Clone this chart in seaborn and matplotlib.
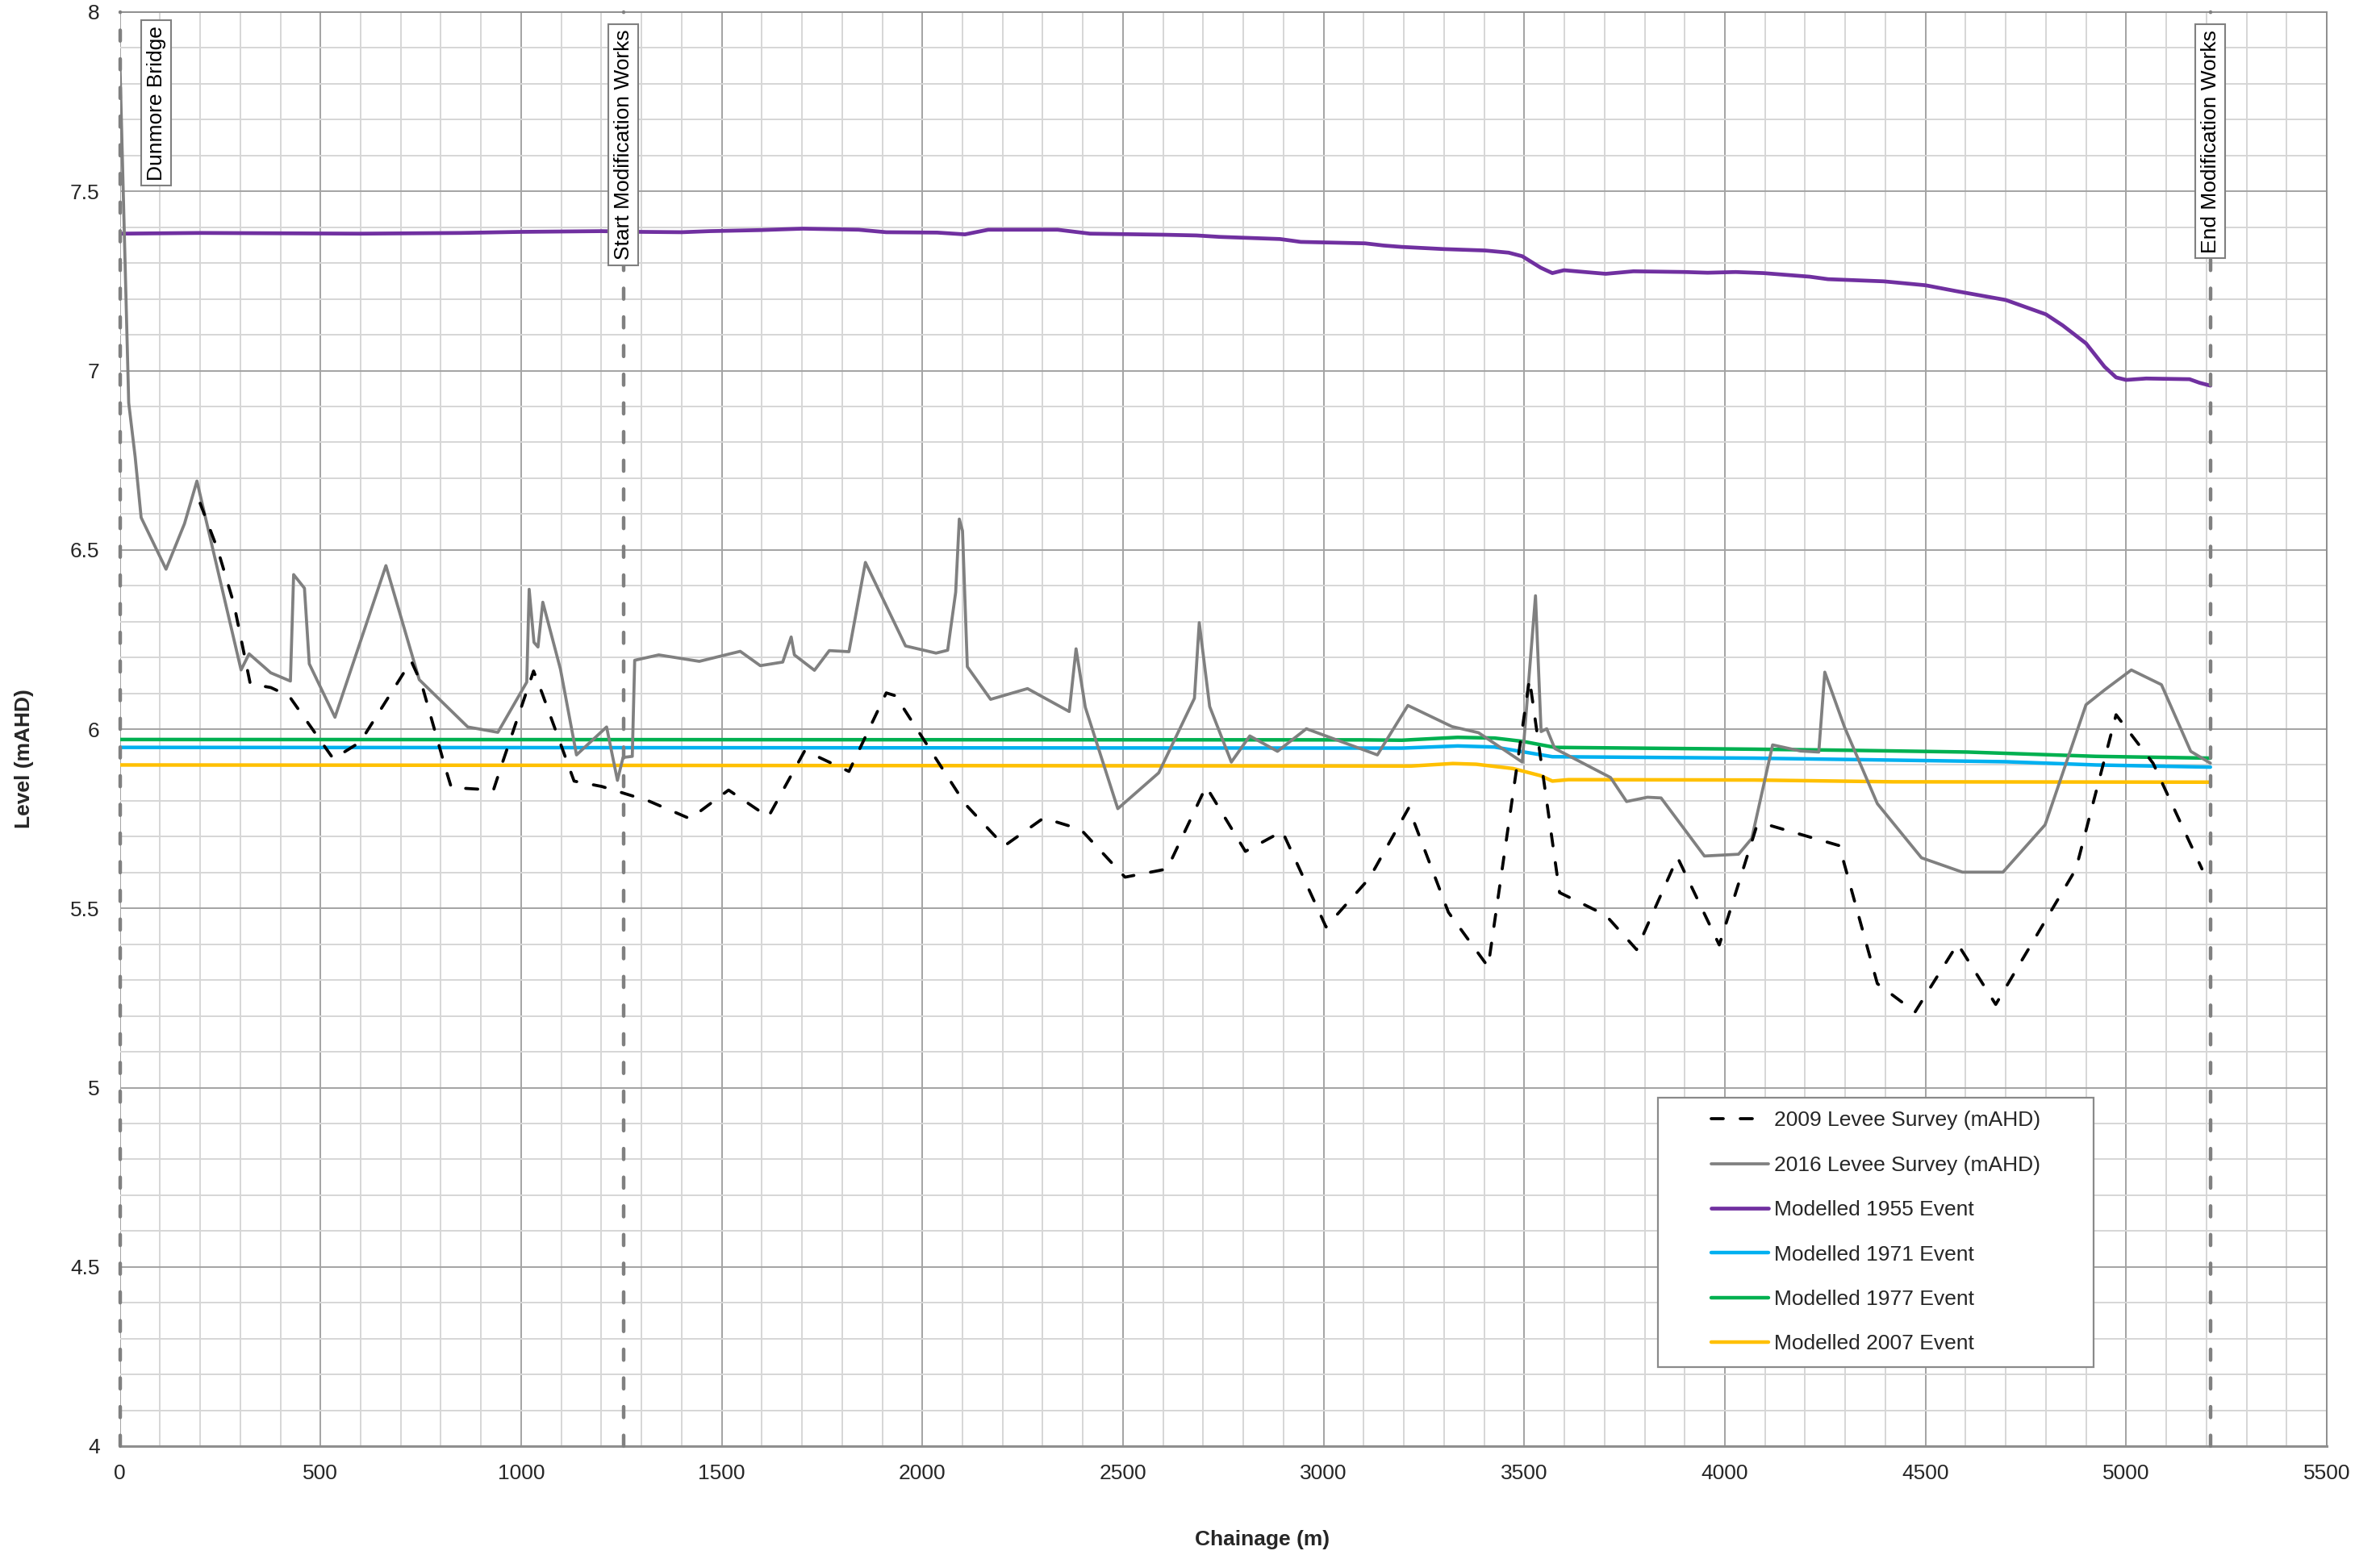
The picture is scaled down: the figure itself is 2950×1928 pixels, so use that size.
import matplotlib
matplotlib.use("Agg")
import matplotlib.pyplot as plt
from matplotlib.patches import Rectangle
from matplotlib.ticker import MultipleLocator, FuncFormatter
import seaborn as sns

# ---- Levee crest surveys (chainage in m, level in mAHD) ----
survey_2009_chainage = [200, 244, 284, 325, 376, 405, 420, 498, 532, 599, 726, 752, 809, 826,
                        931, 953, 1031, 1052, 1132, 1201, 1317, 1421, 1517, 1616, 1707, 1817,
                        1910, 1933, 2106, 2204, 2302, 2395, 2505, 2610, 2707, 2805, 2897, 3006,
                        3114, 3212, 3311, 3410, 3513, 3588, 3703, 3780, 3882, 3986, 4078, 4101,
                        4285, 4380, 4474, 4580, 4675, 4875, 4975, 5067, 5189]
survey_2009_level = [6.63, 6.50, 6.35, 6.126, 6.116, 6.101, 6.095, 5.971, 5.917, 5.964, 6.19,
                     6.126, 5.900, 5.837, 5.830, 5.905, 6.162, 6.101, 5.855, 5.840, 5.800, 5.750,
                     5.830, 5.755, 5.94, 5.882, 6.101, 6.093, 5.792, 5.674, 5.752, 5.720, 5.587,
                     5.610, 5.840, 5.659, 5.715, 5.448, 5.584, 5.780, 5.489, 5.337, 6.14, 5.544,
                     5.481, 5.385, 5.642, 5.398, 5.725, 5.735, 5.675, 5.29, 5.211, 5.401, 5.232,
                     5.61, 6.04, 5.905, 5.61]

survey_2016_chainage = [0, 22, 38, 53, 115, 161, 192, 302, 322, 376, 425, 433, 460, 472, 536,
                        663, 746, 867, 942, 1014, 1020, 1032, 1042, 1054, 1098, 1138, 1213, 1240,
                        1254, 1277, 1283, 1343, 1444, 1546, 1596, 1652, 1673, 1681, 1731, 1768,
                        1817, 1858, 1958, 2034, 2063, 2083, 2092, 2100, 2112, 2170, 2262, 2366,
                        2383, 2406, 2487, 2589, 2678, 2690, 2716, 2770, 2816, 2885, 2957, 3134,
                        3210, 3320, 3386, 3495, 3528, 3542, 3556, 3576, 3715, 3755, 3807, 3841,
                        3949, 4034, 4067, 4119, 4188, 4234, 4249, 4298, 4380, 4490, 4592, 4693,
                        4798, 4900, 4946, 5013, 5088, 5161, 5210]
survey_2016_level = [7.86, 6.91, 6.76, 6.59, 6.446, 6.573, 6.692, 6.165, 6.210, 6.157, 6.134,
                     6.431, 6.393, 6.182, 6.033, 6.456, 6.138, 6.006, 5.991, 6.131, 6.390, 6.242,
                     6.229, 6.354, 6.167, 5.928, 6.006, 5.857, 5.921, 5.924, 6.192, 6.207, 6.189,
                     6.217, 6.177, 6.187, 6.257, 6.207, 6.164, 6.219, 6.216, 6.465, 6.232, 6.212,
                     6.220, 6.382, 6.586, 6.553, 6.174, 6.083, 6.113, 6.049, 6.224, 6.061, 5.778,
                     5.878, 6.086, 6.297, 6.063, 5.908, 5.981, 5.938, 6.001, 5.928, 6.066, 6.007,
                     5.990, 5.908, 6.372, 5.993, 6.001, 5.946, 5.865, 5.798, 5.810, 5.808, 5.646,
                     5.651, 5.695, 5.956, 5.939, 5.936, 6.159, 6.006, 5.792, 5.641, 5.601, 5.601,
                     5.733, 6.068, 6.109, 6.165, 6.124, 5.938, 5.905]

# ---- Modelled flood levels ----
event_1955_chainage = [0, 200, 600, 850, 1000, 1200, 1300, 1400, 1470, 1598, 1702, 1841, 1910,
                       2037, 2106, 2164, 2337, 2418, 2602, 2683, 2741, 2891, 2943, 3103, 3149,
                       3195, 3299, 3403, 3461, 3495, 3541, 3570, 3599, 3703, 3772, 3900, 3957,
                       4027, 4096, 4211, 4257, 4396, 4500, 4575, 4700, 4800, 4842, 4900, 4946,
                       4975, 5000, 5050, 5158, 5183, 5210]
event_1955_level = [7.382, 7.384, 7.382, 7.384, 7.387, 7.389, 7.387, 7.386, 7.389, 7.392, 7.396,
                    7.393, 7.386, 7.385, 7.380, 7.393, 7.393, 7.382, 7.379, 7.377, 7.373, 7.367,
                    7.359, 7.355, 7.349, 7.345, 7.339, 7.335, 7.329, 7.319, 7.287, 7.272, 7.280,
                    7.270, 7.277, 7.275, 7.273, 7.275, 7.272, 7.262, 7.255, 7.249, 7.238, 7.222,
                    7.197, 7.157, 7.126, 7.076, 7.011, 6.981, 6.974, 6.978, 6.976, 6.966, 6.958]

event_1971_chainage = [0, 3195, 3334, 3426, 3495, 3570, 4072, 4700, 4925, 5210]
event_1971_level = [5.949, 5.947, 5.953, 5.950, 5.937, 5.923, 5.919, 5.909, 5.900, 5.894]

event_1977_chainage = [0, 3100, 3195, 3334, 3426, 3495, 3576, 4072, 4303, 4604, 4792, 4925, 5210]
event_1977_level = [5.971, 5.970, 5.969, 5.977, 5.975, 5.966, 5.949, 5.944, 5.941, 5.936,
                    5.929, 5.924, 5.919]

event_2007_chainage = [0, 3218, 3322, 3380, 3472, 3541, 3570, 3610, 4072, 4419, 5210]
event_2007_level = [5.900, 5.897, 5.904, 5.902, 5.890, 5.870, 5.855, 5.859, 5.858, 5.853, 5.852]

# ---- Reference locations along the levee ----
marker_chainage = [0, 1255, 5210]
marker_labels = ["Dunmore Bridge", "Start Modification Works", "End Modification Works"]

series_labels = ["2009 Levee Survey (mAHD)", "2016 Levee Survey (mAHD)",
                 "Modelled 1955 Event", "Modelled 1971 Event",
                 "Modelled 1977 Event", "Modelled 2007 Event"]

sns.set_style("white")
plt.rcParams["font.family"] = ["Liberation Sans", "DejaVu Sans"]
plt.rcParams["font.size"] = 19

W, H = 2950, 1928
fig = plt.figure(figsize=(W / 100, H / 100), dpi=100)
ax_left, ax_right, ax_top, ax_bottom = 148.6, 2884.0, 15.0, 1793.0
ax = fig.add_axes([ax_left / W, 1 - ax_bottom / H,
                   (ax_right - ax_left) / W, (ax_bottom - ax_top) / H])

ax.set_xlim(0, 5500)
ax.set_ylim(4, 8)
ax.xaxis.set_major_locator(MultipleLocator(500))
ax.xaxis.set_minor_locator(MultipleLocator(100))
ax.yaxis.set_major_locator(MultipleLocator(0.5))
ax.yaxis.set_minor_locator(MultipleLocator(0.1))
ax.yaxis.set_major_formatter(FuncFormatter(lambda v, p: f"{v:g}"))
ax.set_axisbelow(True)
ax.grid(which="major", color="#a3a3a3", lw=1.4)
ax.grid(which="minor", color="#d6d6d6", lw=1.4)

ax.tick_params(axis="x", which="major", length=6, width=1.5, color="#8a8a8a",
               direction="out", pad=10, labelsize=19)
ax.tick_params(axis="x", which="minor", length=0)
ax.tick_params(axis="y", which="both", length=4, width=1.4, color="#a3a3a3",
               direction="out", pad=14, labelsize=19)

for side in ["top", "right", "bottom"]:
    ax.spines[side].set_color("#8f8f8f")
ax.spines["top"].set_linewidth(1.4)
ax.spines["right"].set_linewidth(1.4)
ax.spines["bottom"].set_linewidth(2.2)
ax.spines["left"].set_visible(False)


def draw(x, y, **kw):
    sns.lineplot(x=x, y=y, ax=ax, estimator=None, sort=False, legend=False, **kw)
    return ax.lines[-1]


h1955 = draw(event_1955_chainage, event_1955_level, color="#7030A0", lw=3.4, zorder=3)
h1971 = draw(event_1971_chainage, event_1971_level, color="#00B0F0", lw=3.2, zorder=3)
h1977 = draw(event_1977_chainage, event_1977_level, color="#00B050", lw=3.2, zorder=3)
h2007 = draw(event_2007_chainage, event_2007_level, color="#FFC000", lw=3.2, zorder=3)
h2016 = draw(survey_2016_chainage, survey_2016_level, color="#808080", lw=2.7, zorder=3.5)
h2009 = draw(survey_2009_chainage, survey_2009_level, color="black", lw=2.7, zorder=3.6,
             linestyle=(0, (4.0, 5.6)), dash_capstyle="round")

# Vertical reference lines with boxed, rotated captions
label_x = [91, 1255, 5210]
label_top = [0.9905, 0.9878, 0.9878]
for xc, lx, ly, text in zip(marker_chainage, label_x, label_top, marker_labels):
    ax.axvline(xc, color="#808080", lw=3.2, linestyle=(0, (3.0, 5.0)),
               dash_capstyle="round", zorder=4, clip_on=False)
    ax.text(lx, ly, text, transform=ax.get_xaxis_transform(), rotation=90,
            ha="center", va="top", fontsize=19, color="black", zorder=6,
            bbox=dict(boxstyle="square,pad=0.25", fc="white", ec="#808080", lw=1.5))

# Legend with a framed white box
ax.add_patch(Rectangle((0.6970, 0.0551), 0.1974, 0.1880, transform=ax.transAxes,
                       fc="white", ec="#8a8a8a", lw=1.6, zorder=4.5))
handles = [h2009, h2016, h1955, h1971, h1977, h2007]
leg = ax.legend(handles, series_labels, loc="center", bbox_to_anchor=(0.7957, 0.1491),
                frameon=False, fontsize=19, handlelength=2.7, handletextpad=0.25,
                labelspacing=1.19, borderaxespad=0)
leg.set_zorder(5)

ax.set_xlabel("Chainage (m)", fontsize=19, fontweight="bold")
ax.set_ylabel("Level (mAHD)", fontsize=19, fontweight="bold")
ax.xaxis.label.set_va("center")
ax.yaxis.label.set_va("center")
ax.xaxis.set_label_coords(0.5175, -0.0652)
ax.yaxis.set_label_coords(-0.0434, 0.4793)

fig.savefig("out.png", dpi=100, facecolor="white")
